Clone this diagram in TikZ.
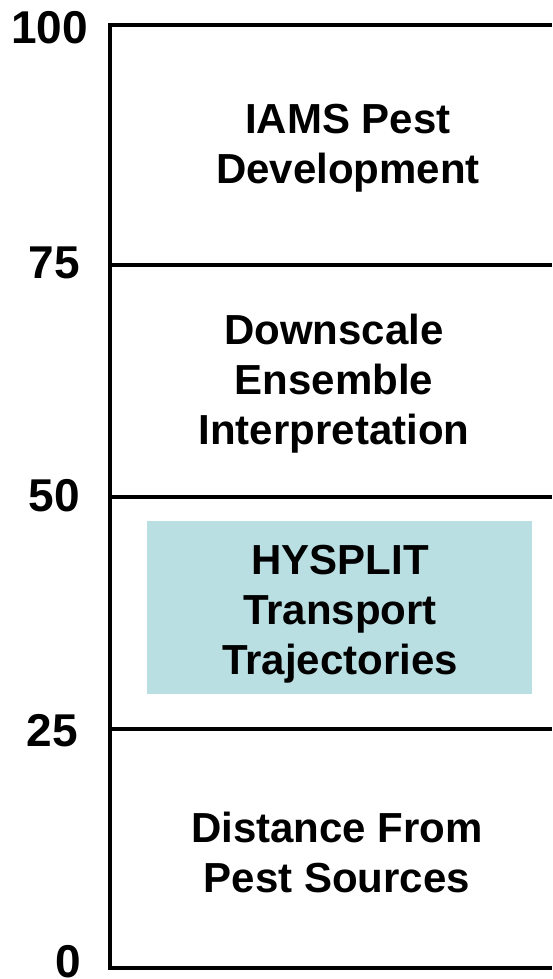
\documentclass[tikz,border=0pt]{standalone}
\usepackage{fontspec}
\setmainfont{Liberation Sans}
\usepackage{xcolor}
\usepackage{tikz}
\usetikzlibrary{positioning}

\definecolor{trajcyan}{RGB}{185,223,227}

\tikzset{
  stage/.style={align=center, inner sep=0pt, font=\fontsize{42}{50}\selectfont\bfseries},
  scalenum/.style={anchor=east, inner sep=0pt, font=\fontsize{46}{46}\selectfont\bfseries},
  rule/.style={line width=3.6pt}
}

\begin{document}
\begin{tikzpicture}[x=1pt, y=-1pt]
    \useasboundingbox (0,0) rectangle (552,979);

    % Highlighted stage box
    \node[fill=trajcyan, minimum width=385pt, minimum height=173pt, inner sep=0pt] (hysplitbox) at (339.5,607.5) {};

    % Scale levels, rules and numbers
    \foreach \val/\ypos/\xr/\ly in {100/25/88/28, 75/265/80/263, 50/497/80/496, 25/729/78/731, 0/968/81/962} {
        \coordinate (l\val) at (110,\ypos);
        \coordinate (r\val) at (552,\ypos);
        \draw[rule] (l\val) -- (r\val);
        \node[scalenum] (num\val) at (\xr,\ly) {\val};
    }

    % Vertical axis
    \draw[rule, line cap=rect] (l100) -- (l0);

    % Stage texts
    \node[stage] (iams) at (348,148) {IAMS Pest\\Development};
    \node[stage] (downscale) at (334,384) {Downscale\\Ensemble\\Interpretation};
    \node[stage] (hysplit) at (340,614) {HYSPLIT\\Transport\\Trajectories};
    \node[stage] (distance) at (337,852) {Distance From\\Pest Sources};
\end{tikzpicture}
\end{document}
